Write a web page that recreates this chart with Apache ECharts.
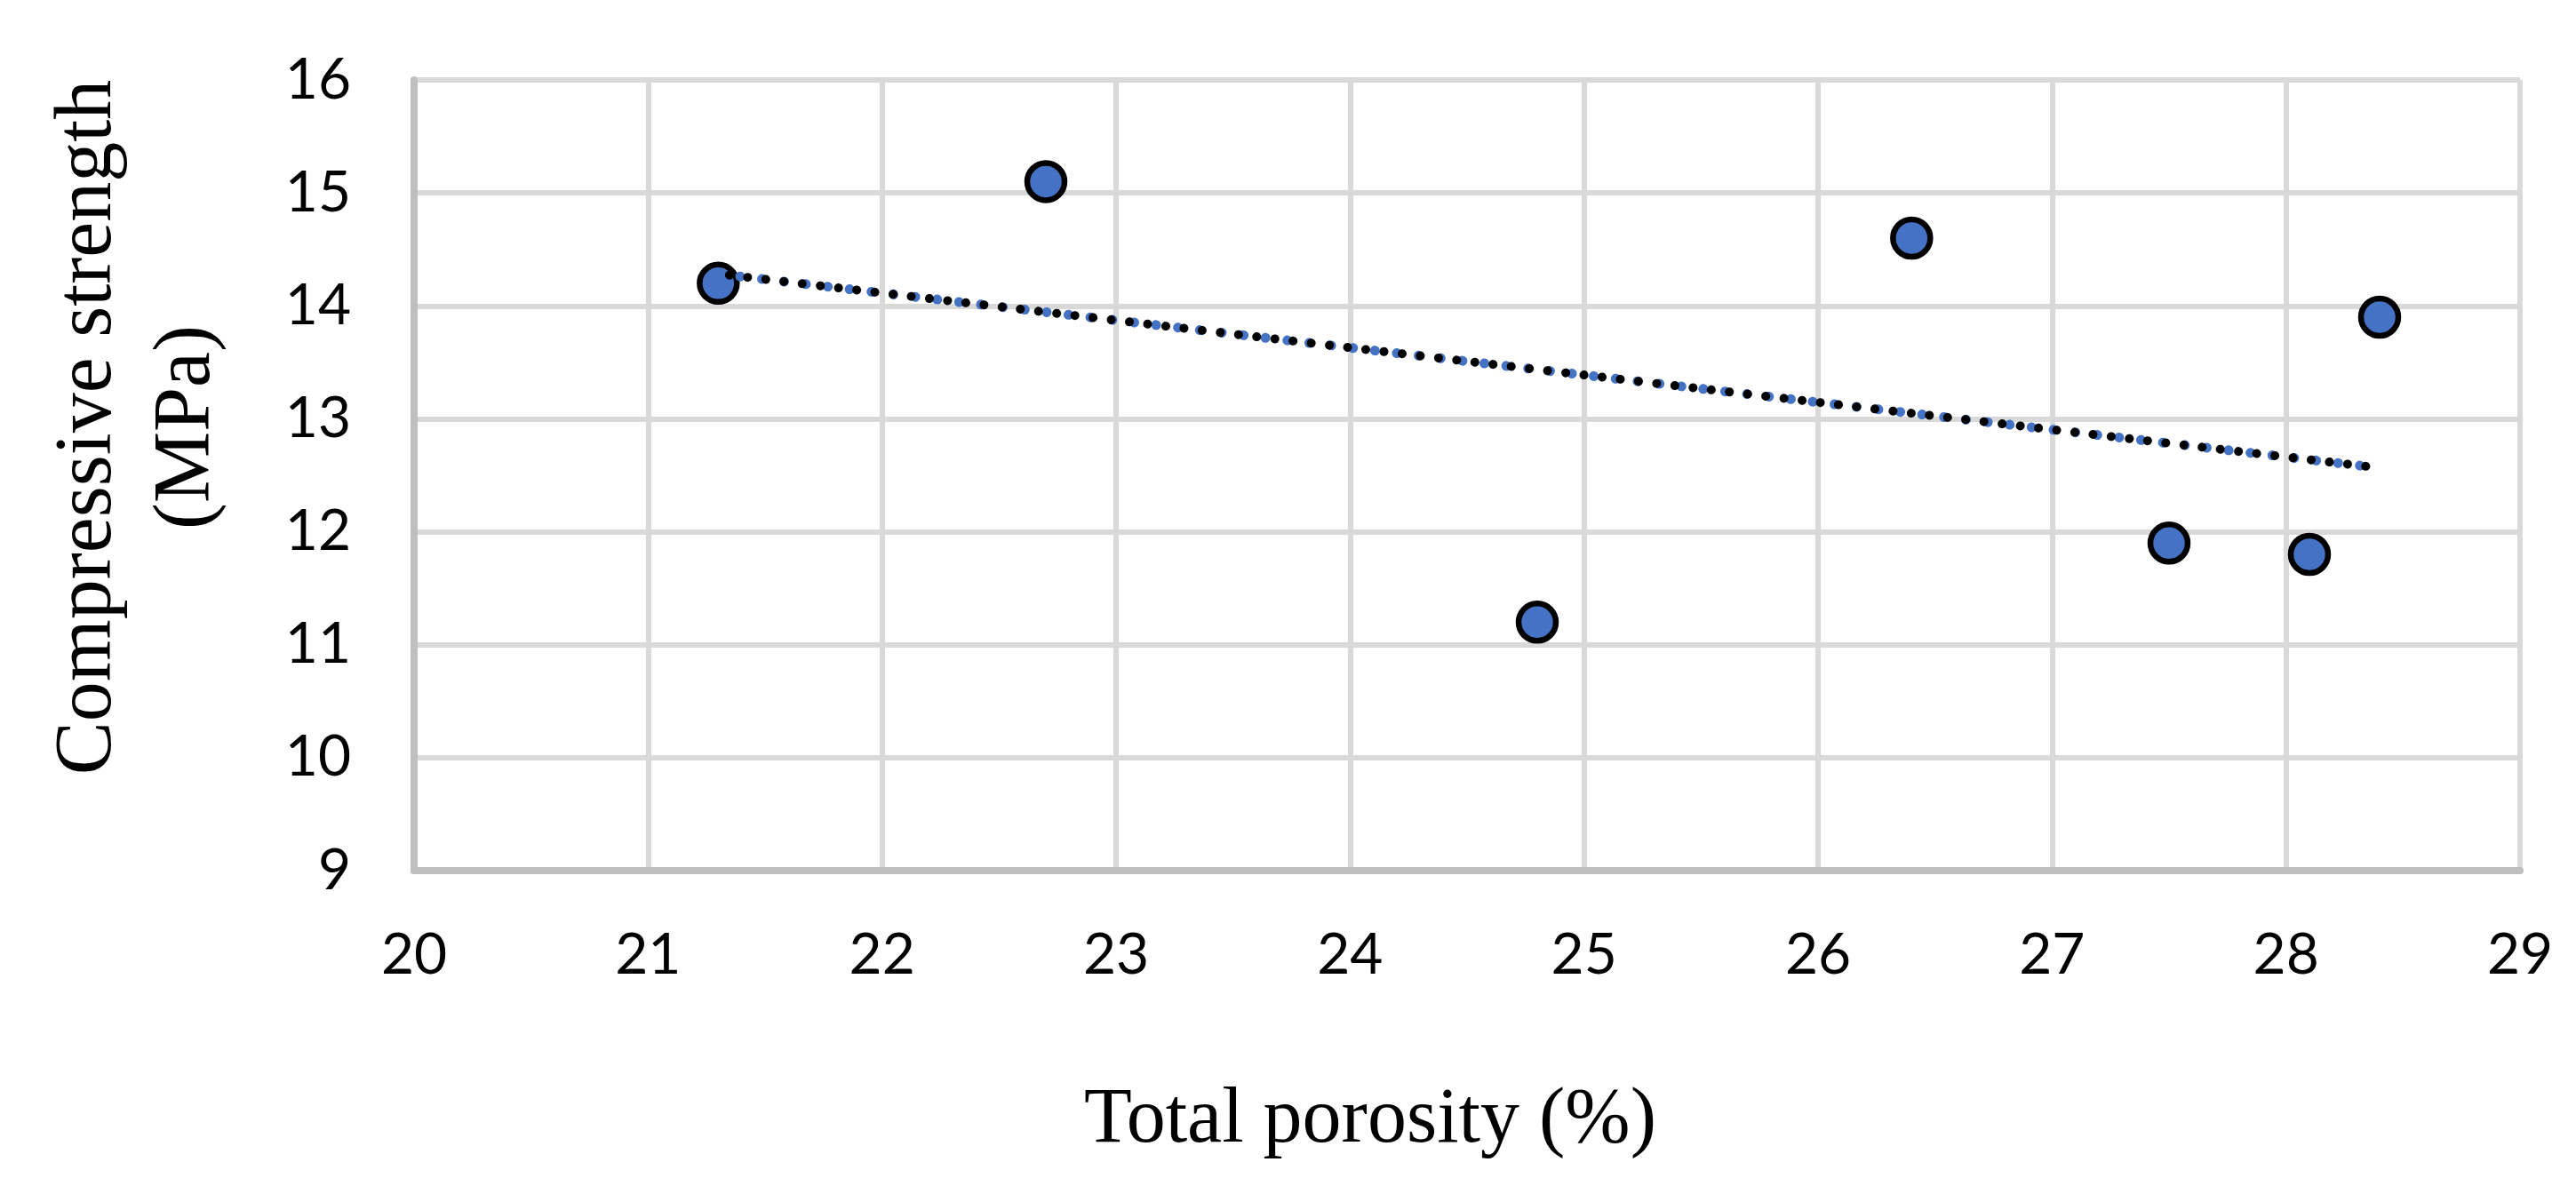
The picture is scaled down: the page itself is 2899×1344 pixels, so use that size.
<!DOCTYPE html>
<html><head><meta charset="utf-8">
<script src="https://cdn.jsdelivr.net/npm/echarts@6.0.0/dist/echarts.min.js"></script>
<style>html,body{margin:0;padding:0;background:#fff}#c{width:2899px;height:1344px}</style>
</head><body><div id="c"></div>
<script>
// ---- data ----
const porosity = [21.3, 22.7, 24.8, 26.4, 27.5, 28.1, 28.4];
const strength = [14.2, 15.1, 11.2, 14.6, 11.9, 11.8, 13.9];
const xRange = [20, 29];
const yRange = [9, 16];
const xTitle = 'Total porosity (%)';
const yTitle = 'Compressive strength\n(MPa)';

// ---- linear trendline (least squares, from the data) ----
const n = porosity.length;
const mx = porosity.reduce((a, b) => a + b, 0) / n;
const my = strength.reduce((a, b) => a + b, 0) / n;
let sxy = 0, sxx = 0;
for (let i = 0; i < n; i++) { sxy += (porosity[i] - mx) * (strength[i] - my); sxx += (porosity[i] - mx) ** 2; }
const slope = sxy / sxx, intercept = my - slope * mx;
const xMinD = Math.min(...porosity), xMaxD = Math.max(...porosity);
const trend = [[xMinD, intercept + slope * xMinD], [xMaxD, intercept + slope * xMaxD]];

const points = porosity.map((x, i) => [x, strength[i]]);

const xSplitColors = [];
for (let v = xRange[0]; v <= xRange[1]; v++) xSplitColors.push(v === xRange[0] ? '#bfbfbf' : '#d9d9d9');
const ySplitColors = [];
for (let v = yRange[0]; v <= yRange[1]; v++) ySplitColors.push(v === yRange[0] ? '#bfbfbf' : '#d9d9d9');

const chart = echarts.init(document.getElementById('c'), null, { renderer: 'canvas' });
chart.setOption({
  animation: false,
  backgroundColor: '#ffffff',
  grid: { left: 466, right: 63, top: 90, bottom: 364, containLabel: false, outerBoundsMode: 'none' },
  xAxis: {
    type: 'value', min: xRange[0], max: xRange[1], interval: 1,
    name: xTitle, nameLocation: 'middle', nameGap: 238, nameMoveOverlap: false,
    nameTextStyle: { fontFamily: 'Liberation Serif', fontSize: 88, color: '#000', padding: [0, 218, 0, 0] },
    axisLine: { show: true, onZero: false, lineStyle: { color: '#bfbfbf', width: 8 } },
    axisTick: { show: false },
    axisLabel: { margin: 63, fontFamily: 'Lato', fontSize: 64, color: '#000' },
    splitLine: { show: true, lineStyle: { color: xSplitColors, width: 6 } }
  },
  yAxis: {
    type: 'value', min: yRange[0], max: yRange[1], interval: 1,
    name: yTitle, nameLocation: 'middle', nameGap: 199, nameRotate: 90, nameMoveOverlap: false,
    nameTextStyle: { fontFamily: 'Liberation Serif', fontSize: 90, lineHeight: 111, color: '#000', padding: [0, 0, 0, 108] },
    axisLine: { show: true, onZero: false, lineStyle: { color: '#bfbfbf', width: 8 } },
    axisTick: { show: false },
    axisLabel: { margin: 71, fontFamily: 'Lato', fontSize: 64, color: '#000' },
    splitLine: { show: true, lineStyle: { color: ySplitColors, width: 6 } }
  },
  series: [
    {
      type: 'scatter', data: points, z: 2,
      symbol: 'circle', symbolSize: 42,
      itemStyle: { color: '#4472c4', borderColor: '#000', borderWidth: 6.5, opacity: 1 }
    },
    {
      type: 'line', data: trend, z: 3, symbol: 'none', silent: true,
      lineStyle: { color: '#4472c4', width: 11, type: [0.1, 24.7], cap: 'round' }
    },
    {
      type: 'line', data: trend, z: 4, symbol: 'none', silent: true,
      lineStyle: { color: '#000000', width: 10, type: [0.1, 20.5], dashOffset: 8, cap: 'round' }
    }
  ]
});
</script>
</body></html>
